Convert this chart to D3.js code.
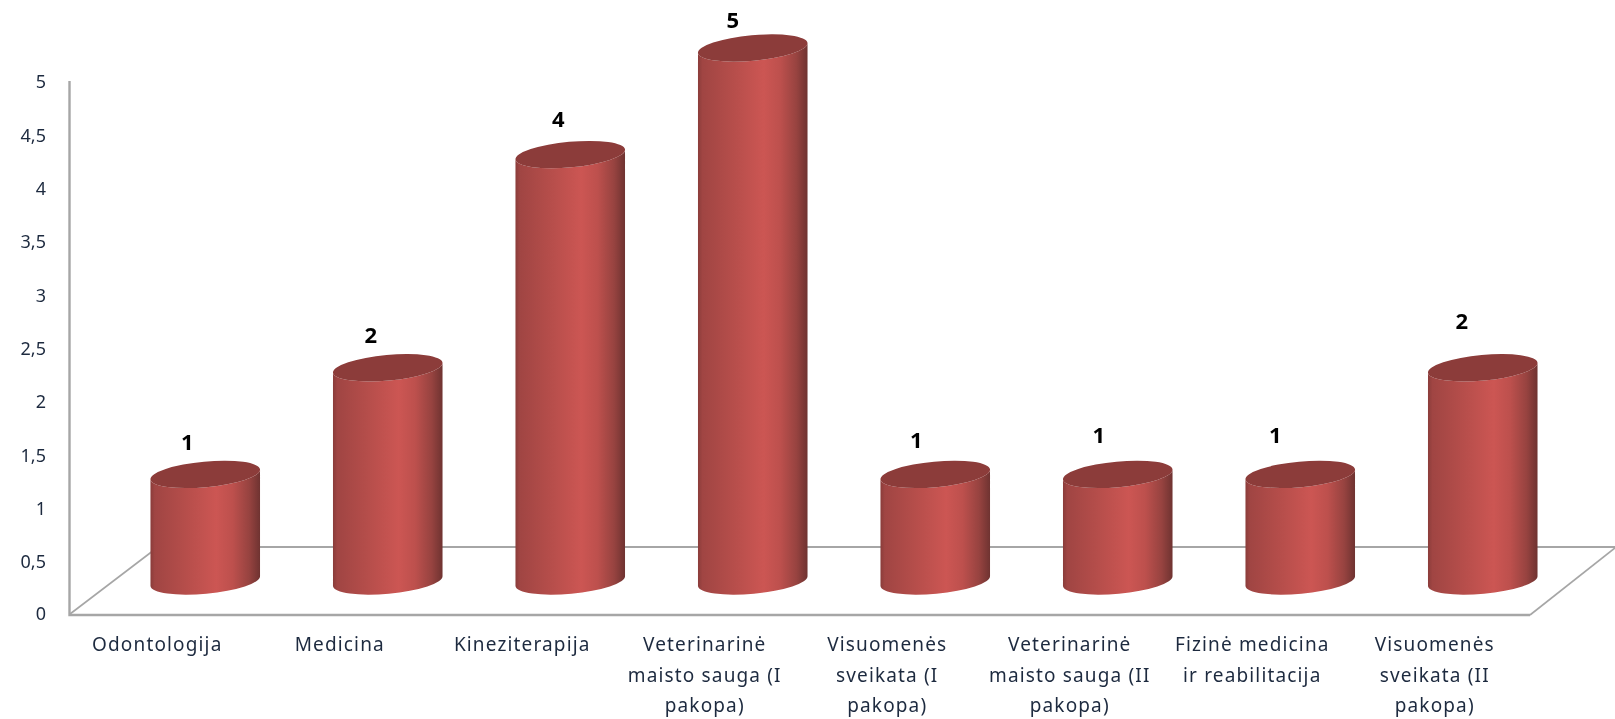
<!DOCTYPE html>
<html>
<head>
<meta charset="utf-8">
<script src="https://cdn.jsdelivr.net/npm/d3@7/dist/d3.min.js"></script>
<style>
html,body{margin:0;padding:0;background:#fff;overflow:hidden}
svg{display:block;filter:blur(0.5px)}
svg text{font-family:"Noto Sans","Open Sans",sans-serif}
.axis text{fill:#1d2a3f}
</style>
</head>
<body>
<svg id="c" width="1615" height="719"></svg>
<script>
const categories = ["Odontologija","Medicina","Kineziterapija","Veterinarinė\nmaisto sauga (I\npakopa)","Visuomenės\nsveikata (I\npakopa)","Veterinarinė\nmaisto sauga (II\npakopa)","Fizinė medicina\nir reabilitacija","Visuomenės\nsveikata (II\npakopa)"];
const values = [1,2,4,5,1,1,1,2];
const yTicks = [0,0.5,1,1.5,2,2.5,3,3.5,4,4.5,5];
const labelNudgeX = [-18,-17,-12,-20,-19,-19,-25,-21];
const labelNudgeY = [-32,-33,-36,-28,-34,-39,-39,-47];

const svg = d3.select("#c");
const y = d3.scaleLinear().domain([0,5]).range([614,81]);
const x = d3.scaleBand().domain(categories).range([66,1526]).paddingInner(0).paddingOuter(0);

// depth offset of the 3D plot
const depthX = 48, depthY = -33;
const rx = 55, ry = 12.8, tilt = -5.2;
const sn = Math.sin(tilt*Math.PI/180), cs = Math.cos(tilt*Math.PI/180);

const defs = svg.append("defs");
const g = defs.append("linearGradient").attr("id","cyl").attr("x1","0").attr("x2","1").attr("y1","0").attr("y2","0");
[[0,"#8a3c3a"],[0.04,"#a04543"],[0.3,"#b44d4a"],[0.6,"#cc5653"],[0.75,"#bd504d"],[0.9,"#974340"],[1,"#6f3331"]]
  .forEach(s=>g.append("stop").attr("offset",s[0]).attr("stop-color",s[1]));

// floor and walls
const floor = svg.append("g").attr("fill","none").attr("stroke","#a6a6a6");
floor.append("path").attr("stroke-width",1.6).attr("d",`M70,614L158,547`);
floor.append("path").attr("stroke-width",2).attr("d",`M158,547L1615,547`);
floor.append("path").attr("stroke-width",1.6).attr("d",`M1615,548L1530,615`);
floor.append("path").attr("stroke-width",2.4).attr("d",`M69.5,${y(5)}L69.5,615L1530,615`);

// y axis
const ya = svg.append("g").attr("class","axis").attr("transform","translate(69,0)")
  .call(d3.axisLeft(y).tickValues(yTicks).tickSize(0).tickPadding(23)
    .tickFormat(d=>String(d).replace(".",",")));
ya.select(".domain").remove();
ya.selectAll("text").attr("font-size",18).attr("dy","0.32em");
ya.selectAll(".tick").attr("transform",d=>`translate(0,${y(d)+(d===0?0.5:1.7)})`);

// x axis
const xa = svg.append("g").attr("class","axis").attr("transform","translate(0,615)")
  .call(d3.axisBottom(x).tickSize(0).tickFormat(""));
xa.select(".domain").remove();
xa.selectAll(".tick").each(function(d){
  const t = d3.select(this).select("text").attr("font-size",19).attr("letter-spacing",1.15).attr("text-anchor","middle").attr("y",0).attr("dy",null);
  d.split("\n").forEach((l,i)=>t.append("tspan").attr("x",0).attr("y",36+i*30.5).text(l));
});

// cylinders
const bars = svg.append("g").selectAll("g").data(values).join("g");
bars.each(function(v,i){
  const cx = x(categories[i]) + x.bandwidth()/2 + depthX;
  const yTop = y(v) + depthY, yBot = y(0) + depthY;
  const dx = rx*cs, dy = rx*sn;
  const s = d3.select(this);
  s.append("path").attr("fill","url(#cyl)")
    .attr("d",`M${cx-dx},${yTop-dy}L${cx-dx},${yBot-dy}A${rx},${ry} ${tilt} 0 0 ${cx+dx},${yBot+dy}L${cx+dx},${yTop+dy}A${rx},${ry} ${tilt} 0 1 ${cx-dx},${yTop-dy}Z`);
  s.append("ellipse").attr("fill","#8c3c3a")
    .attr("rx",rx).attr("ry",ry)
    .attr("transform",`translate(${cx},${yTop}) rotate(${tilt})`);
  s.append("text").attr("x",cx+labelNudgeX[i]).attr("y",yTop+labelNudgeY[i])
    .attr("dy","0.36em").attr("text-anchor","middle").attr("font-size",22).attr("font-weight","bold").attr("fill","#000")
    .text(v);
});
</script>
</body>
</html>
